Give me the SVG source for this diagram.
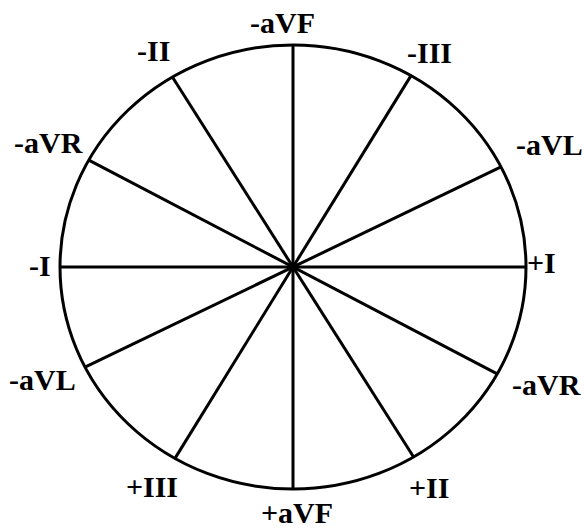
<svg xmlns="http://www.w3.org/2000/svg" width="584" height="529" viewBox="0 0 584 529">
<style>
.lbl{font-family:"Liberation Serif","Times New Roman",serif;font-weight:bold;font-size:30px;fill:#000}
.ln{stroke:#000;stroke-width:3;fill:none}
</style>
<rect width="584" height="529" fill="#fff"/>
<g id="connectors">
<line class="ln" x1="293" y1="45" x2="293" y2="489"/>
<line class="ln" x1="60" y1="267" x2="526" y2="267"/>
<line class="ln" x1="172.4" y1="77" x2="413.6" y2="457"/>
<line class="ln" x1="411" y1="75.6" x2="175" y2="458.4"/>
<line class="ln" x1="501" y1="166.8" x2="85" y2="367.2"/>
<line class="ln" x1="88.8" y1="160.1" x2="497.2" y2="373.9"/>
</g>
<g id="circle"><ellipse class="ln" cx="293" cy="267" rx="233" ry="222"/></g>
<g id="n-aVF"><text class="lbl" x="250" y="33">-aVF</text></g>
<g id="n-II"><text class="lbl" x="137" y="61">-II</text></g>
<g id="n-III"><text class="lbl" x="407" y="63">-III</text></g>
<g id="n-aVR1"><text class="lbl" x="14" y="153">-aVR</text></g>
<g id="n-aVL1"><text class="lbl" x="516" y="155">-aVL</text></g>
<g id="n-I"><text class="lbl" x="29" y="276">-I</text></g>
<g id="n+I"><text class="lbl" x="527" y="273">+I</text></g>
<g id="n-aVL2"><text class="lbl" x="9" y="390">-aVL</text></g>
<g id="n-aVR2"><text class="lbl" x="512" y="395">-aVR</text></g>
<g id="n+III"><text class="lbl" x="178" y="497" text-anchor="end">+III</text></g>
<g id="n+II"><text class="lbl" x="409" y="498">+II</text></g>
<g id="n+aVF"><text class="lbl" x="261" y="523">+aVF</text></g>
</svg>
